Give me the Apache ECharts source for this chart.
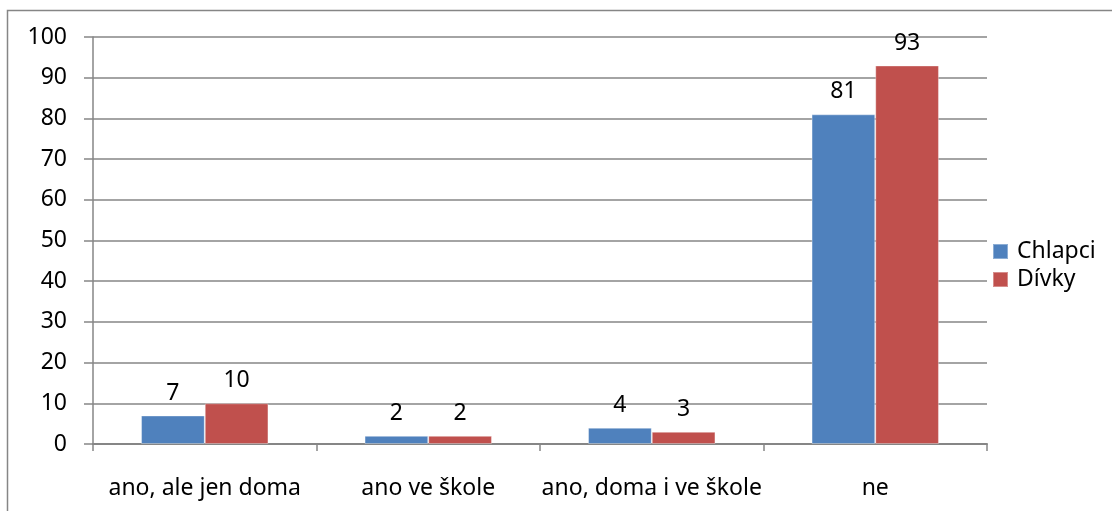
<!DOCTYPE html>
<html>
<head>
<meta charset="utf-8">
<script src="https://cdn.jsdelivr.net/npm/echarts@6/dist/echarts.min.js"></script>
<style>
  html, body { margin: 0; padding: 0; background: #ffffff; }
  #chart { width: 1112px; height: 511px; }
</style>
</head>
<body>
<div id="chart"></div>
<script>
// Categories and values per group
const categories = ['ano, ale jen doma', 'ano ve škole', 'ano, doma i ve škole', 'ne'];
const chlapci = [7, 2, 4, 81];
const divky = [10, 2, 3, 93];
const seriesNames = ['Chlapci', 'Dívky'];
const yTicks = { min: 0, max: 100, interval: 10 };

const FONT = 'Noto Sans';
const FONT_SIZE = 23;
const AXIS_GRAY = '#868686';

const chart = echarts.init(document.getElementById('chart'), null, { renderer: 'canvas' });

const labelStyle = {
  show: true,
  position: 'top',
  distance: 11,
  color: '#000000',
  fontFamily: FONT,
  fontSize: FONT_SIZE
};

chart.setOption({
  animation: false,
  backgroundColor: '#ffffff',
  graphic: [{
    type: 'rect',
    shape: { x: 7.5, y: 10.5, width: 1300, height: 700 },
    style: { fill: 'none', stroke: AXIS_GRAY, lineWidth: 1.5 },
    z: -1
  }],
  grid: { left: 93, right: 125, top: 37, bottom: 67, containLabel: false },
  legend: {
    orient: 'vertical',
    left: 992,
    top: 240,
    padding: 0,
    itemWidth: 15,
    itemHeight: 15,
    itemGap: 5,
    icon: 'rect',
    textStyle: { fontFamily: FONT, fontSize: FONT_SIZE, color: '#000000', padding: [0, 0, 0, 4] },
    data: seriesNames
  },
  xAxis: {
    type: 'category',
    data: categories,
    boundaryGap: true,
    axisLine: { lineStyle: { color: AXIS_GRAY, width: 2 } },
    axisTick: { show: true, length: 7, alignWithLabel: false, lineStyle: { color: AXIS_GRAY, width: 1.5 } },
    axisLabel: { margin: 33, color: '#000000', fontFamily: FONT, fontSize: FONT_SIZE, interval: 0 },
    splitLine: { show: false }
  },
  yAxis: {
    type: 'value',
    min: yTicks.min,
    max: yTicks.max,
    interval: yTicks.interval,
    axisLine: { show: true, lineStyle: { color: AXIS_GRAY, width: 1.5 } },
    axisTick: { show: true, length: 9, lineStyle: { color: AXIS_GRAY, width: 1.5 } },
    axisLabel: { margin: 26, color: '#000000', fontFamily: FONT, fontSize: FONT_SIZE },
    splitLine: { show: true, lineStyle: { color: AXIS_GRAY, width: 1.5 } }
  },
  series: [
    {
      name: seriesNames[0],
      type: 'bar',
      data: chlapci,
      barGap: '0%',
      barCategoryGap: '43%',
      itemStyle: { color: '#4F81BD', borderColor: 'rgba(255,255,255,0.35)', borderWidth: 1 },
      label: labelStyle
    },
    {
      name: seriesNames[1],
      type: 'bar',
      data: divky,
      barGap: '0%',
      barCategoryGap: '43%',
      itemStyle: { color: '#C0504D', borderColor: 'rgba(255,255,255,0.35)', borderWidth: 1 },
      label: labelStyle
    }
  ]
});
</script>
</body>
</html>
